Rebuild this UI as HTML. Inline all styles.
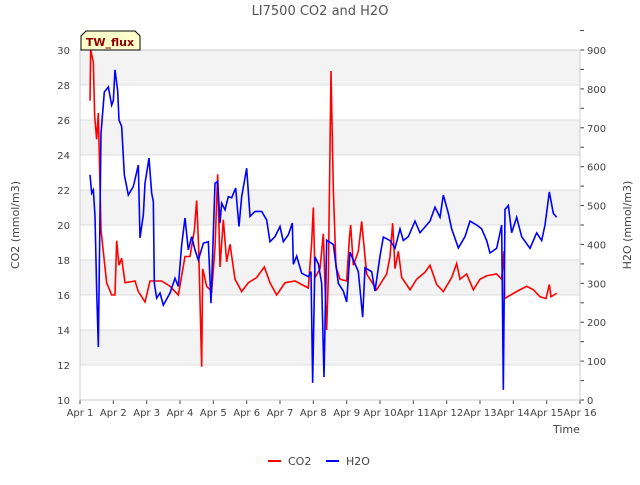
<!DOCTYPE html>
<html><head><meta charset="utf-8"><style>
body{margin:0;background:#fff;font-family:"Liberation Sans","DejaVu Sans",sans-serif}
svg text{font-family:"DejaVu Sans","Liberation Sans",sans-serif}
</style></head><body>
<svg id="c" width="640" height="480" viewBox="0 0 640 480" xmlns="http://www.w3.org/2000/svg">
<text x="320" y="15" text-anchor="middle" font-size="13" fill="#555">LI7500 CO2 and H2O</text>
<g id="bands"></g><g id="grid"></g><g id="axes"></g><g id="series"></g>
<g>
<path d="M81,50 L81,36 L86,31 L135,31 L140,36 L140,50 Z" fill="#ffffcc" stroke="#000" stroke-width="1"/>
<text x="110" y="46" text-anchor="middle" font-size="11" font-weight="bold" fill="#8b0000">TW_flux</text>
</g>
<text x="553" y="433" font-size="11" fill="#444">Time</text>
<text transform="translate(19,225) rotate(-90)" text-anchor="middle" font-size="11" fill="#444">CO2 (mmol/m3)</text>
<text transform="translate(631,225) rotate(-90)" text-anchor="middle" font-size="11" fill="#444">H2O (mmol/m3)</text>
<g><line x1="268" y1="461" x2="281" y2="461" stroke="red" stroke-width="2"/><text x="288" y="465" font-size="11" fill="#444">CO2</text></g>
<g><line x1="326" y1="461" x2="339" y2="461" stroke="blue" stroke-width="2"/><text x="346" y="465" font-size="11" fill="#444">H2O</text></g>
</svg>
<script>
const xTicks=["Apr 1","Apr 2","Apr 3","Apr 4","Apr 5","Apr 6","Apr 7","Apr 8","Apr 9","Apr 10","Apr 11","Apr 12","Apr 13","Apr 14","Apr 15","Apr 16"];
const leftTicks=[10,12,14,16,18,20,22,24,26,28,30];
const rightTicks=[0,100,200,300,400,500,600,700,800,900];
const co2Days=[0.3,0.32,0.4,0.44,0.5,0.55,0.63,0.8,0.95,1.05,1.1,1.17,1.25,1.35,1.65,1.75,1.95,2.1,2.45,2.7,2.95,3.15,3.3,3.43,3.5,3.56,3.65,3.68,3.8,3.95,4.05,4.13,4.2,4.3,4.4,4.5,4.65,4.85,5.05,5.3,5.53,5.7,5.9,6.15,6.45,6.75,6.85,6.95,7.0,7.05,7.2,7.3,7.35,7.4,7.45,7.53,7.6,7.68,7.8,8.0,8.08,8.12,8.2,8.35,8.45,8.6,8.9,9.2,9.3,9.38,9.45,9.55,9.65,9.9,10.1,10.35,10.5,10.7,10.9,11.15,11.3,11.4,11.6,11.8,12.0,12.2,12.5,12.65,12.72,12.74,13.1,13.4,13.6,13.8,13.98,14.08,14.13,14.3];
const co2Vals=[27.1,30.0,29.3,26.2,24.9,26.4,19.7,16.7,16.0,16.0,19.1,17.7,18.1,16.7,16.8,16.2,15.6,16.8,16.8,16.5,16.0,18.2,18.2,19.7,21.4,18.7,11.9,17.5,16.5,16.2,18.7,22.9,17.6,20.3,17.9,18.9,16.9,16.2,16.7,17.0,17.6,16.7,16.0,16.7,16.8,16.5,16.4,19.0,21.0,17.0,17.5,19.5,16.5,14.0,17.0,28.8,22.0,17.6,16.9,16.8,19.2,20.0,17.7,18.5,20.2,17.2,16.3,17.2,18.2,20.1,17.5,18.5,17.0,16.3,16.9,17.3,17.7,16.6,16.2,17.0,17.8,16.9,17.2,16.3,16.9,17.1,17.2,16.9,18.5,15.8,16.2,16.5,16.3,15.9,15.8,16.6,15.9,16.1];
const h2oDays=[0.3,0.35,0.4,0.45,0.5,0.55,0.63,0.73,0.85,0.95,1.0,1.05,1.13,1.17,1.25,1.33,1.45,1.6,1.75,1.8,1.9,1.95,2.07,2.15,2.2,2.23,2.3,2.4,2.5,2.7,2.85,2.95,3.05,3.15,3.25,3.35,3.45,3.55,3.7,3.85,3.93,4.05,4.13,4.2,4.25,4.35,4.45,4.55,4.67,4.77,4.85,5.0,5.1,5.25,5.45,5.6,5.7,5.85,6.0,6.1,6.25,6.37,6.4,6.5,6.65,6.85,6.93,6.98,7.05,7.15,7.25,7.32,7.4,7.6,7.75,7.9,8.0,8.1,8.2,8.35,8.48,8.55,8.75,8.85,9.0,9.1,9.3,9.45,9.6,9.7,9.85,10.05,10.2,10.5,10.65,10.8,10.9,11.05,11.15,11.35,11.55,11.7,11.9,12.05,12.2,12.3,12.5,12.65,12.7,12.75,12.85,12.95,13.1,13.25,13.5,13.7,13.85,13.95,14.08,14.2,14.3];
const h2oVals=[579,532,540,473,283,136,686,792,805,758,770,849,795,720,703,579,527,549,604,417,476,557,622,532,510,300,262,275,244,275,313,292,399,468,386,420,386,360,403,407,249,557,562,455,506,489,523,520,545,446,523,596,472,485,485,463,407,420,446,407,425,455,349,370,326,317,330,44,368,350,300,59,411,400,300,280,252,380,360,330,213,340,330,280,370,419,410,390,440,410,420,460,430,460,496,470,527,480,440,391,420,460,450,440,410,378,390,450,26,490,500,430,470,420,390,430,410,450,535,480,470];
const X0=80,X1=580,Y0=400,Y1=50;
const xs=d=>X0+d*(X1-X0)/15;
const yl=v=>Y0-(v-10)*(Y0-Y1)/20;
const yr=v=>Y0-v*(Y0-Y1)/900;
const NS="http://www.w3.org/2000/svg";
function mk(tag,attrs,parent){const e=document.createElementNS(NS,tag);for(const k in attrs)e.setAttribute(k,attrs[k]);document.getElementById(parent).appendChild(e);return e;}
for(let i=0;i<leftTicks.length-1;i++){
  if(i%2===1){const r=mk('rect',{x:X0,y:yl(leftTicks[i+1]),width:X1-X0,height:yl(leftTicks[i])-yl(leftTicks[i+1]),fill:'#f3f3f3'},'bands');
  
  }
}
leftTicks.forEach(v=>{
  const l=mk('line',{x1:X0,x2:X1,y1:yl(v),y2:yl(v),stroke:'#dcdcdc','stroke-width':1},'grid');
  
  
  const t=mk('text',{x:X0-10,y:yl(v)+4,'text-anchor':'end','font-size':10,fill:'#444'},'axes');t.textContent=v;
  
  
});
rightTicks.forEach(v=>{
  mk('line',{x1:X1,x2:X1+4,y1:yr(v),y2:yr(v),stroke:'#444'},'axes');
  mk('line',{x1:X1,x2:X1+4,y1:yr(v+50),y2:yr(v+50),stroke:'#444'},'axes');
  const t=mk('text',{x:X1+7,y:yr(v)+4,'font-size':10,fill:'#444'},'axes');t.textContent=v;
  
  
});
xTicks.forEach((s,i)=>{
  mk('line',{x1:xs(i),x2:xs(i),y1:Y0,y2:Y0+4,stroke:'#444'},'axes');
  const t=mk('text',{x:xs(i),y:Y0+16,'text-anchor':'middle','font-size':10,fill:'#444'},'axes');t.textContent=s;
  
  
});
const fr=mk('rect',{x:X0,y:Y1,width:X1-X0,height:Y0-Y1,fill:'none',stroke:'#ccc'},'axes');


const co2=mk('polyline',{points:co2Days.map((d,i)=>xs(d)+','+yl(co2Vals[i])).join(' '),fill:'none',stroke:'red','stroke-width':1.6},'series');


const h2o=mk('polyline',{points:h2oDays.map((d,i)=>xs(d)+','+yr(h2oVals[i])).join(' '),fill:'none',stroke:'blue','stroke-width':1.6},'series');


</script>
</body></html>
